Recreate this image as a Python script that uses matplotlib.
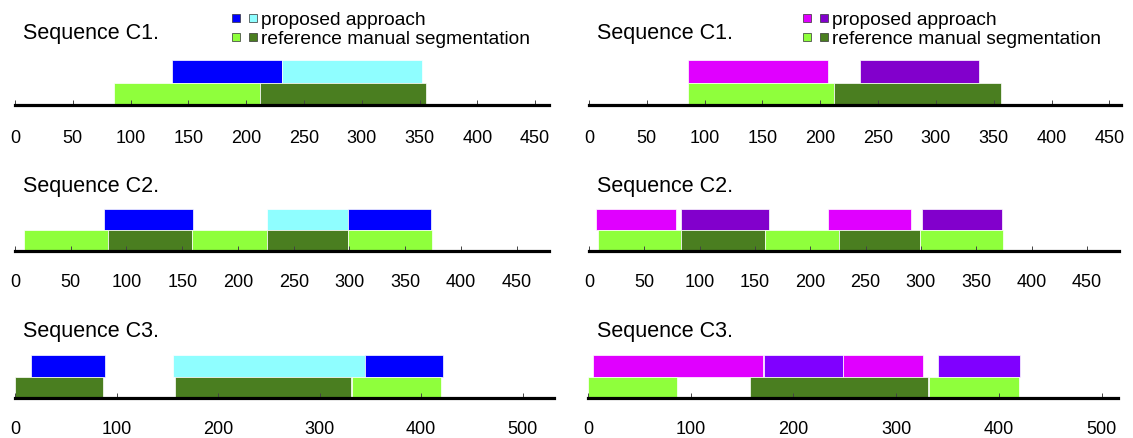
import matplotlib.pyplot as plt
from matplotlib.patches import Rectangle

plt.rcParams['font.family'] = ['Liberation Sans', 'DejaVu Sans']

# segment data (frame numbers): (start, end)
c1_reference = [(86, 212), (212, 356)]
c2_reference = [(8, 83), (83, 159), (159, 226), (226, 299), (299, 374)]
c3_reference = [(0, 87), (158, 331), (332, 420)]

c1_proposed_left = [(136, 231), (231, 352)]
c2_proposed_left = [(80, 160), (226, 299), (299, 373)]
c3_proposed_left = [(16, 89), (156, 345), (345, 422)]

c1_proposed_right = [(86, 207), (234, 337)]
c2_proposed_right = [(6, 79), (83, 163), (216, 291), (301, 373)]
c3_proposed_right = [(5, 170), (171, 248), (248, 326), (341, 421)]

# which of the two shades each segment takes
c1_ref_shade = [0, 1]
c2_ref_shade = [0, 1, 0, 1, 0]
c3_ref_shade_left = [1, 1, 0]
c3_ref_shade_right = [0, 1, 0]
c1_prop_shade = [0, 1]
c2_prop_shade_left = [0, 1, 0]
c3_prop_shade_left = [0, 1, 0]
c2_prop_shade_right = [0, 1, 0, 1]
c3_prop_shade_right = [0, 1, 0, 1]

titles = ['Sequence C1.', 'Sequence C2.', 'Sequence C3.']
legend_labels = ['proposed approach', 'reference manual segmentation']
ticks_450 = list(range(0, 451, 50))
ticks_500 = list(range(0, 501, 100))

ref_colors = ['#8FFF3C', '#4A7E20']
left_colors = ['#0000FF', '#8FFEFF']
right_colors = ['#E000FF', '#8200CC']
right_colors_c3 = ['#E000FF', '#8000FF']

W, H = 1133, 439
fig = plt.figure(figsize=(W / 100, H / 100), dpi=100)


def px_rect(x0, x1, ytop, ybot):
    return [x0 / W, 1 - ybot / H, (x1 - x0) / W, (ybot - ytop) / H]


def draw_panel(rect, xmax, ticks, pad, proposed, prop_shade, prop_colors,
               reference, ref_shade):
    ax = fig.add_axes(rect)
    # proposed segmentation on the upper row
    starts = [s for s, e in proposed]
    widths = [e - s for s, e in proposed]
    ax.bar(starts, 1, width=widths, bottom=1, align='edge',
           color=[prop_colors[k] for k in prop_shade],
           edgecolor='white', linewidth=0.5)
    # manual reference on the lower row
    starts = [s for s, e in reference]
    widths = [e - s for s, e in reference]
    ax.bar(starts, 1, width=widths, bottom=0, align='edge',
           color=[ref_colors[k] for k in ref_shade],
           edgecolor='white', linewidth=0.5)
    ax.set_xlim(0, xmax)
    ax.set_ylim(0, 2)
    for side in ['top', 'left', 'right']:
        ax.spines[side].set_visible(False)
    ax.spines['bottom'].set_linewidth(2.3)
    ax.spines['bottom'].set_color('black')
    ax.set_xticks(ticks)
    ax.set_yticks([])
    ax.tick_params(axis='x', direction='in', length=3.6, width=0.7,
                   color='#444444', pad=pad, labelsize=13)
    ax.patch.set_alpha(0)
    return ax


# left column
draw_panel(px_rect(15, 549, 61, 106), 462, ticks_450, 17,
           c1_proposed_left, c1_prop_shade, left_colors, c1_reference, c1_ref_shade)
draw_panel(px_rect(15, 549, 210, 252), 479, ticks_450, 15.5,
           c2_proposed_left, c2_prop_shade_left, left_colors, c2_reference, c2_ref_shade)
draw_panel(px_rect(15, 554, 356, 399), 531, ticks_500, 15.5,
           c3_proposed_left, c3_prop_shade_left, left_colors, c3_reference, c3_ref_shade_left)

# right column
draw_panel(px_rect(589, 1121, 61, 106), 460, ticks_450, 17,
           c1_proposed_right, c1_prop_shade, right_colors, c1_reference, c1_ref_shade)
draw_panel(px_rect(589, 1119, 210, 252), 479, ticks_450, 15.5,
           c2_proposed_right, c2_prop_shade_right, right_colors, c2_reference, c2_ref_shade)
draw_panel(px_rect(588, 1118, 356, 399), 516, ticks_500, 15.5,
           c3_proposed_right, c3_prop_shade_right, right_colors_c3, c3_reference, c3_ref_shade_right)

# titles
for title, base in zip(titles, [39, 192, 337]):
    for x in [23, 597]:
        fig.text(x / W, 1 - base / H, title, fontsize=15.5, va='baseline', ha='left')

# legends (two swatches per entry)
for x0, prop_colors in [(232, left_colors), (803, right_colors)]:
    for row, (label, colors) in enumerate(zip(legend_labels, [prop_colors, ref_colors])):
        ytop = 15 + row * 19
        for j, c in enumerate(colors):
            fig.patches.append(Rectangle(((x0 + j * 17) / W, 1 - (ytop + 8) / H),
                                         8 / W, 8 / H, transform=fig.transFigure,
                                         facecolor=c, edgecolor='#333333', linewidth=0.5))
        fig.text((x0 + 29) / W, 1 - (ytop + 10) / H, label, fontsize=13.8,
                 va='baseline', ha='left')

fig.savefig('out.png', dpi=100)
